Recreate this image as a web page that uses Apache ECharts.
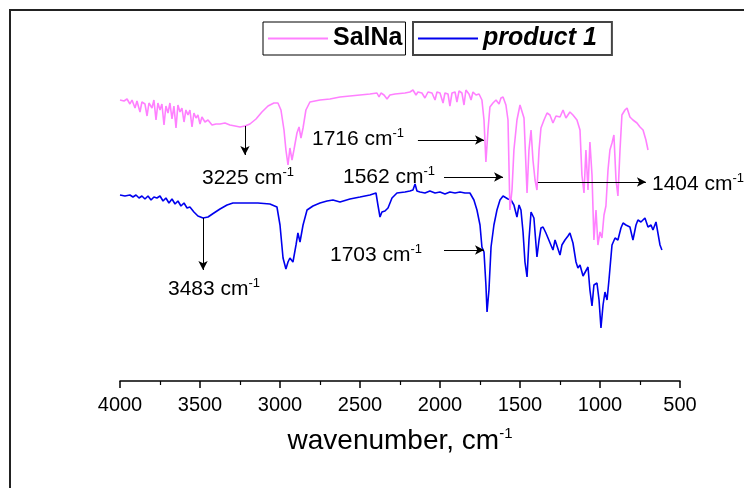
<!DOCTYPE html>
<html>
<head>
<meta charset="utf-8">
<title>IR spectra</title>
<script src="https://cdn.jsdelivr.net/npm/echarts@6/dist/echarts.min.js"></script>
<style>
  html, body { margin: 0; padding: 0; background: #fff; }
  #chart { width: 744px; height: 488px; }
</style>
</head>
<body>
<div id="chart"></div>
<script>
// x axis ticks (reversed wavenumber axis)
const xMin = 500
const xMax = 4000
const xStep = 500

// SalNa spectrum, offset intensity (a.u.)
const salnaWn = [
  4000, 3975, 3956, 3938, 3925, 3906, 3894, 3875, 3863, 3844, 3831, 3819, 3800, 3788, 3775, 3763,
  3750, 3738, 3725, 3713, 3700, 3688, 3675, 3663, 3650, 3638, 3625, 3613, 3600, 3588, 3575, 3563,
  3550, 3538, 3525, 3513, 3500, 3488, 3469, 3450, 3425, 3400, 3375, 3344, 3313, 3281, 3250, 3219,
  3188, 3150, 3113, 3075, 3038, 3013, 2994, 2975, 2963, 2950, 2938, 2925, 2913, 2894, 2881, 2869,
  2856, 2838, 2813, 2750, 2688, 2625, 2563, 2500, 2438, 2394, 2381, 2369, 2350, 2331, 2313, 2281,
  2219, 2188, 2169, 2150, 2138, 2113, 2094, 2075, 2050, 2031, 2019, 2000, 1981, 1969, 1950, 1938,
  1925, 1906, 1894, 1881, 1863, 1850, 1838, 1819, 1806, 1794, 1775, 1756, 1738, 1725, 1713, 1700,
  1688, 1669, 1650, 1631, 1619, 1606, 1588, 1575, 1563, 1550, 1538, 1519, 1500, 1488, 1475, 1456,
  1444, 1431, 1419, 1406, 1394, 1381, 1369, 1350, 1331, 1313, 1294, 1275, 1250, 1231, 1213, 1188,
  1169, 1144, 1125, 1113, 1100, 1088, 1075, 1063, 1050, 1038, 1025, 1013, 1000, 988, 975, 963,
  950, 938, 925, 913, 900, 888, 875, 863, 844, 831, 813, 794, 769, 750, 731, 713, 700
]
const salnaVal = [
  281, 280, 282, 277, 281, 273, 280, 269, 279, 277, 265, 278, 273, 281, 261, 278,
  271, 277, 256, 275, 268, 278, 262, 275, 253, 276, 269, 273, 259, 271, 266, 271,
  254, 268, 263, 266, 257, 264, 259, 261, 256, 257, 257, 258, 256, 255, 254, 255,
  257, 262, 269, 275, 278, 278, 271, 251, 231, 216, 233, 221, 231, 248, 254, 243,
  253, 271, 279, 281, 282, 284, 285, 286, 287, 288, 284, 288, 286, 282, 286, 287,
  288, 289, 291, 286, 289, 288, 283, 289, 288, 281, 289, 288, 278, 288, 287, 275,
  288, 289, 279, 290, 288, 276, 291, 287, 281, 289, 286, 287, 281, 261, 219, 251,
  274, 278, 281, 277, 283, 284, 276, 261, 171, 191, 231, 261, 276, 278, 263, 188,
  231, 251, 221, 201, 191, 231, 253, 261, 268, 266, 258, 265, 264, 271, 263, 269,
  266, 261, 251, 206, 188, 231, 191, 239, 206, 141, 171, 136, 149, 143, 166, 175,
  211, 231, 238, 246, 201, 185, 231, 266, 271, 273, 264, 261, 258, 254, 251, 241, 231
]

// product 1 spectrum, offset intensity (a.u.)
const productWn = [
  4000, 3969, 3938, 3919, 3900, 3881, 3863, 3844, 3825, 3806, 3788, 3769, 3750, 3731, 3713, 3694,
  3675, 3656, 3638, 3619, 3600, 3581, 3563, 3538, 3513, 3481, 3450, 3413, 3375, 3331, 3294, 3219,
  3138, 3063, 3019, 3000, 2981, 2963, 2950, 2938, 2919, 2900, 2888, 2875, 2856, 2831, 2794, 2750,
  2706, 2669, 2625, 2563, 2500, 2438, 2400, 2388, 2375, 2363, 2344, 2325, 2300, 2269, 2219, 2188,
  2169, 2156, 2144, 2125, 2094, 2063, 2031, 2000, 1969, 1938, 1906, 1875, 1844, 1813, 1788, 1769,
  1750, 1738, 1725, 1713, 1706, 1694, 1681, 1663, 1644, 1625, 1606, 1594, 1575, 1556, 1538, 1519,
  1506, 1494, 1481, 1469, 1456, 1444, 1431, 1413, 1394, 1381, 1369, 1356, 1338, 1325, 1313, 1294,
  1281, 1269, 1250, 1238, 1219, 1200, 1188, 1169, 1150, 1138, 1125, 1106, 1094, 1075, 1063, 1050,
  1038, 1019, 1006, 994, 981, 969, 956, 944, 925, 906, 888, 869, 856, 838, 813, 794,
  775, 763, 744, 719, 700, 681, 669, 650, 638, 625, 613
]
const productVal = [
  186, 185, 186, 184, 186, 183, 185, 182, 185, 181, 184, 183, 185, 180, 183, 178,
  182, 177, 180, 175, 178, 173, 174, 169, 165, 163, 164, 168, 172, 176, 178, 178,
  178, 177, 174, 156, 123, 112, 119, 123, 119, 136, 148, 139, 156, 171, 175, 178,
  180, 181, 179, 182, 184, 186, 188, 176, 164, 169, 170, 173, 183, 188, 189, 190,
  191, 197, 190, 189, 188, 190, 188, 189, 187, 189, 188, 189, 188, 188, 181, 171,
  156, 134, 129, 96, 69, 91, 134, 156, 171, 181, 185, 184, 182, 181, 176, 164,
  176, 171, 149, 119, 104, 141, 169, 163, 124, 141, 153, 154, 148, 143, 145, 131,
  141, 143, 126, 136, 141, 145, 148, 138, 119, 113, 116, 105, 103, 114, 91, 75,
  96, 98, 81, 53, 76, 89, 81, 101, 136, 143, 141, 153, 158, 156, 154, 141,
  156, 161, 159, 163, 154, 156, 151, 159, 158, 136, 131
]

// peak annotations: label, arrow start [wn, val], arrow end [wn, val]
const peakLabels = ['3225', '3483', '1716', '1562', '1404', '1703']
const arrowFrom = [[3219, 255], [3481, 163], [2138, 241], [1975, 204], [1388, 199], [1975, 131]]
const arrowTo = [[3219, 226], [3481, 111], [1725, 241], [1606, 204], [713, 199], [1725, 131]]
// label anchor (left, middle) in px
const labelPos = [[202, 178], [168, 289], [312, 139], [343, 177], [652, 184], [330, 255]]

const zip = (xs, ys) => xs.map((x, i) => [x, ys[i]])

const supRich = {
  a: { fontSize: 21, fontFamily: 'Liberation Sans', color: '#000', lineHeight: 24 },
  s: { fontSize: 13, fontFamily: 'Liberation Sans', color: '#000', verticalAlign: 'top', lineHeight: 24 }
}

const chart = echarts.init(document.getElementById('chart'))

const option = {
  backgroundColor: '#fff',
  animation: false,
  grid: { left: 120, right: 64, top: 41, bottom: 107 },
  legend: [
    {
      data: ['SalNa'],
      left: 263, top: 22,
      padding: [4, 3, 4, 5],
      itemWidth: 60, itemHeight: 2, icon: 'rect',
      borderColor: '#000', borderWidth: 1,
      textStyle: { fontSize: 25, fontWeight: 'bold', fontFamily: 'Liberation Sans', color: '#000' }
    },
    {
      data: ['product 1'],
      left: 413, top: 22,
      padding: [4, 15, 4, 5],
      itemWidth: 60, itemHeight: 2, icon: 'rect',
      borderColor: '#444', borderWidth: 2,
      textStyle: { fontSize: 25, fontWeight: 'bold', fontStyle: 'italic', fontFamily: 'Liberation Sans', color: '#000' }
    }
  ],
  xAxis: {
    type: 'value',
    min: xMin, max: xMax, interval: xStep,
    inverse: true,
    axisLine: { lineStyle: { color: '#000', width: 1.5 } },
    axisTick: { length: 7, lineStyle: { color: '#000', width: 1.5 } },
    minorTick: { show: true, splitNumber: 2, length: 4, lineStyle: { color: '#000', width: 1.2 } },
    splitLine: { show: false },
    axisLabel: {
      fontSize: 20, fontFamily: 'Liberation Sans', color: '#000', margin: 14,
      formatter: v => String(v)
    },
    name: '{a|wavenumber, cm}{s|-1}',
    nameLocation: 'middle',
    nameGap: 45,
    nameTextStyle: {
      rich: {
        a: { fontSize: 28, fontFamily: 'Liberation Sans', color: '#000', lineHeight: 30 },
        s: { fontSize: 15, fontFamily: 'Liberation Sans', color: '#000', verticalAlign: 'top', lineHeight: 30 }
      }
    }
  },
  yAxis: { type: 'value', min: 0, max: 340, show: false },
  series: [
    {
      name: 'product 1',
      type: 'line',
      color: '#0000ee',
      showSymbol: false,
      lineStyle: { width: 1.6 },
      data: zip(productWn, productVal),
      markLine: {
        silent: true,
        symbol: ['none', 'arrow'],
        symbolSize: [7, 9],
        label: { show: false },
        lineStyle: { color: '#000', width: 1, type: 'solid' },
        data: arrowFrom.map((p, i) => [{ coord: p }, { coord: arrowTo[i] }])
      }
    },
    {
      name: 'SalNa',
      type: 'line',
      color: '#ff80ff',
      showSymbol: false,
      lineStyle: { width: 1.6 },
      data: zip(salnaWn, salnaVal)
    }
  ],
  graphic: [
    { type: 'line', shape: { x1: 9, y1: 10, x2: 744, y2: 10 }, style: { stroke: '#222', lineWidth: 2 } },
    { type: 'line', shape: { x1: 10, y1: 9, x2: 10, y2: 488 }, style: { stroke: '#222', lineWidth: 2 } }
  ].concat(peakLabels.map((t, i) => ({
    type: 'text',
    x: labelPos[i][0],
    y: labelPos[i][1],
    style: {
      text: '{a|' + t + ' cm}{s|-1}',
      rich: supRich,
      verticalAlign: 'middle'
    }
  })))
}

chart.setOption(option)
</script>
</body>
</html>
